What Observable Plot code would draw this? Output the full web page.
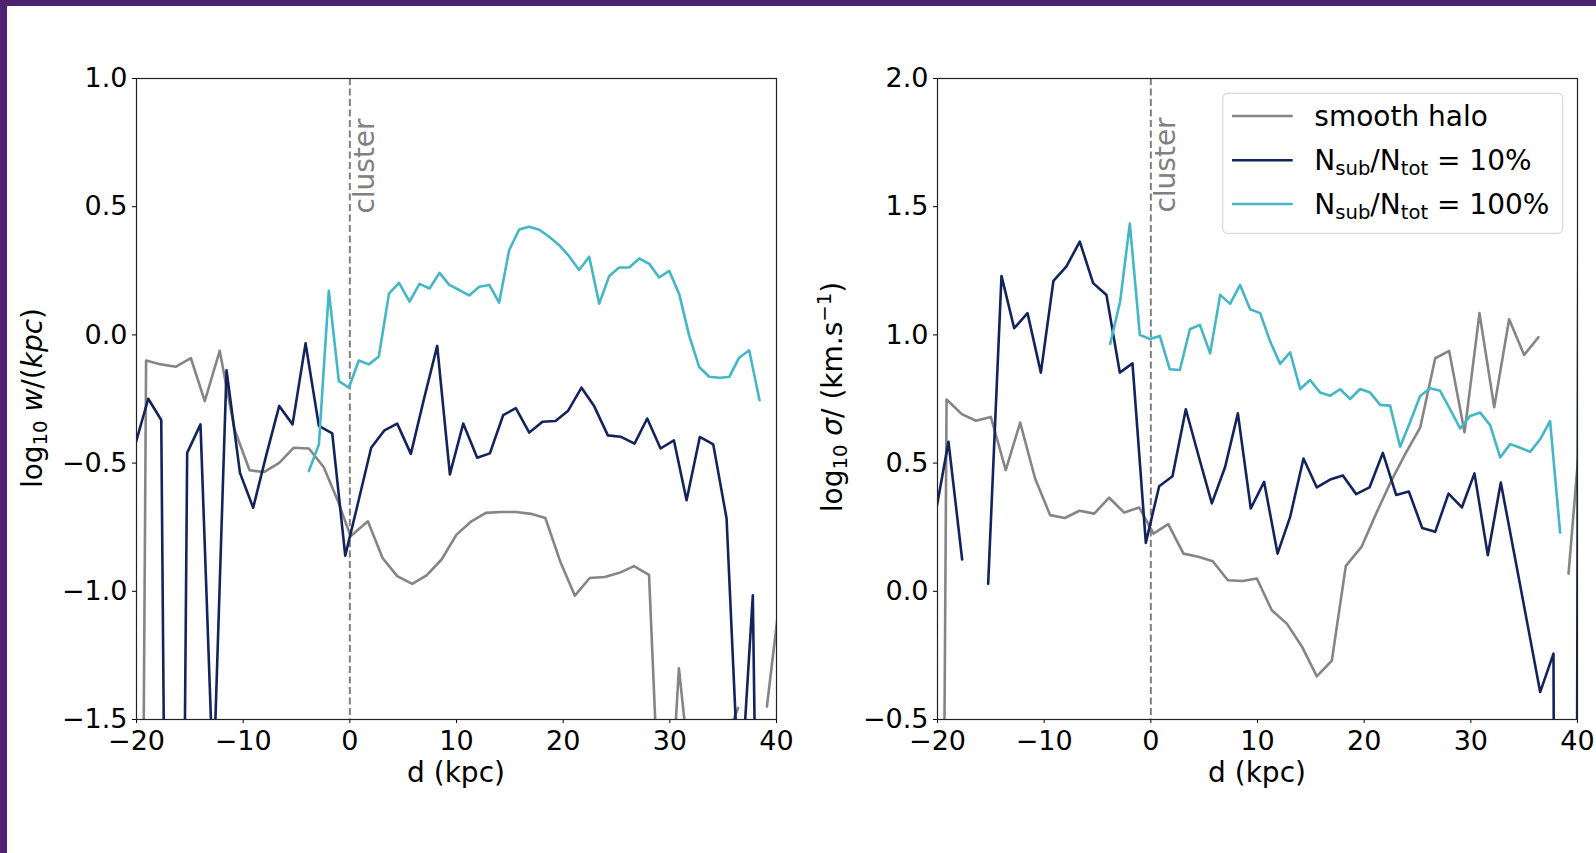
<!DOCTYPE html>
<html><head><meta charset="utf-8">
<script src="https://cdn.jsdelivr.net/npm/d3@7"></script>
<script src="https://cdn.jsdelivr.net/npm/@observablehq/plot@0.6"></script>
<style>
html,body{margin:0;padding:0;background:#fff;}
#page{position:relative;width:1596px;height:853px;background:#fff;overflow:hidden;font-family:"DejaVu Sans";}
#barL{position:absolute;left:0;top:0;width:7px;height:853px;background:#4e2171;}
#barT{position:absolute;left:0;top:0;width:1596px;height:6px;background:#4e2171;}
#left{position:absolute;left:0;top:0;width:800px;height:853px;}
#right{position:absolute;left:800px;top:0;width:796px;height:853px;}
</style></head><body>
<div id="page"><div id="left"></div><div id="right"></div><div id="barL"></div><div id="barT"></div></div>
<script>
// ---------- data ----------
const xTicks = [-20, -10, 0, 10, 20, 30, 40];
const yTicksW = [-1.5, -1.0, -0.5, 0.0, 0.5, 1.0];
const yTicksS = [-0.5, 0.0, 0.5, 1.0, 1.5, 2.0];
const seriesNames = ["smooth halo", "10%", "100%"];
const seriesColors = ["#858585", "#13245c", "#44b7c7"];

// Left panel: log10 w/(kpc)
const dGrayL = [-20.5, -19.1, -17.7, -16.3, -14.9, -13.6, -12.2, -10.8, -9.4, -8.06, -6.62, -5.25, -3.84, -2.44, -1.1, 0.07, 1.69, 3.07, 4.44, 5.85, 7.2, 8.6, 10.0, 11.4, 12.76, 14.17, 15.57, 16.98, 18.33, 19.77, 21.1, 22.49, 23.9, 25.27, 26.64, 28.05, 29.45, 30.85, 32.25, 33.65, 35.05, 36.4, 37.8, 39.1, 40.5];
const wGray = [-9, -0.10, -0.115, -0.124, -0.091, -0.258, -0.062, -0.37, -0.528, -0.535, -0.499, -0.44, -0.443, -0.516, -0.65, -0.785, -0.727, -0.87, -0.941, -0.971, -0.9375, -0.876, -0.779, -0.727, -0.694, -0.691, -0.691, -0.698, -0.714, -0.889, -1.017, -0.948, -0.944, -0.928, -0.902, -0.936, -2.3, -1.30, -1.85, -2.4, -1.6, -1.455, NaN, -1.45, -0.96];

const dBlueL = [-20.13, -18.9, -17.68, -16.45, -15.25, -14.0, -12.8, -11.56, -10.3, -9.06, -7.84, -6.62, -5.37, -4.15, -2.9, -1.65, -0.43, 0.8, 2.0, 3.25, 4.44, 5.72, 6.95, 8.19, 9.38, 10.63, 11.94, 13.13, 14.38, 15.56, 16.82, 18.07, 19.28, 20.44, 21.72, 22.87, 24.19, 25.38, 26.69, 27.88, 29.13, 30.38, 31.57, 32.81, 34.07, 35.32, 36.55, 37.78, 39.0];
const wBlue = [-0.43, -0.249, -0.332, -6.5, -0.46, -0.349, -1.76, -0.138, -0.538, -0.674, -0.47, -0.277, -0.349, -0.033, -0.355, -0.384, -0.861, -0.65, -0.44, -0.372, -0.346, -0.464, -0.25, -0.043, -0.544, -0.346, -0.479, -0.462, -0.3125, -0.286, -0.381, -0.339, -0.336, -0.297, -0.206, -0.275, -0.392, -0.397, -0.424, -0.326, -0.443, -0.411, -0.645, -0.398, -0.427, -0.716, -1.85, -1.016, -4.7];

const dCyanL = [-3.84, -2.9, -1.97, -1.03, -0.09, 0.84, 1.78, 2.72, 3.67, 4.61, 5.6, 6.53, 7.47, 8.41, 9.32, 10.26, 11.19, 12.13, 13.07, 14.0, 14.94, 15.88, 16.82, 17.76, 18.69, 19.63, 20.57, 21.5, 22.44, 23.38, 24.32, 25.25, 26.19, 27.13, 28.07, 29.0, 29.94, 30.88, 31.82, 32.75, 33.69, 34.63, 35.57, 36.5, 37.44, 38.41];
const wCyan = [-0.531, -0.427, 0.172, -0.18, -0.206, -0.10, -0.115, -0.084, 0.161, 0.203, 0.130, 0.199, 0.181, 0.242, 0.195, 0.175, 0.154, 0.1875, 0.195, 0.126, 0.331, 0.411, 0.422, 0.41, 0.383, 0.35, 0.306, 0.253, 0.305, 0.122, 0.23, 0.263, 0.263, 0.298, 0.277, 0.224, 0.25, 0.159, -0.004, -0.125, -0.163, -0.167, -0.164, -0.089, -0.06, -0.255];

// Right panel: log10 sigma/(km/s)
const dGrayR = [-20.5, -19.15, -17.72, -16.4, -15.0, -13.6, -12.25, -10.85, -9.44, -8.06, -6.69, -5.31, -3.91, -2.5, -1.09, 0.25, 1.63, 3.06, 4.45, 5.81, 7.22, 8.6, 9.94, 11.34, 12.75, 14.16, 15.56, 16.97, 18.28, 19.75, 21.12, 22.53, 23.88, 25.25, 26.66, 27.97, 29.41, 30.81, 32.19, 33.59, 35.0, 36.34, 37.75, 39.16, 40.56];
const sGray = [-8, 0.748, 0.691, 0.665, 0.68, 0.473, 0.658, 0.44, 0.297, 0.286, 0.314, 0.303, 0.365, 0.307, 0.327, 0.225, 0.262, 0.147, 0.135, 0.117, 0.043, 0.040, 0.050, -0.074, -0.126, -0.215, -0.332, -0.27, 0.099, 0.173, 0.303, 0.43, 0.538, 0.638, 0.909, 0.9375, 0.62, 1.085, 0.718, 1.061, 0.922, 0.991, NaN, 0.069, 0.77];

const dBlueR = [-20.2, -18.97, -17.69, -16.45, -15.25, -14.0, -12.81, -11.56, -10.31, -9.13, -7.91, -6.66, -5.41, -4.16, -2.91, -1.72, -0.47, 0.78, 2.03, 3.28, 4.53, 5.72, 6.97, 8.16, 9.37, 10.62, 11.88, 13.06, 14.31, 15.56, 16.81, 18.0, 19.25, 20.5, 21.75, 23.0, 24.19, 25.44, 26.66, 27.91, 29.16, 30.34, 31.59, 32.81, 34.06, 35.31, 36.5, 37.75, 39.0, 40.3];
const sBlue = [0.30, 0.583, 0.124, NaN, 0.030, 1.23, 1.026, 1.085, 0.853, 1.211, 1.267, 1.364, 1.202, 1.156, 0.853, 0.889, 0.189, 0.41, 0.449, 0.71, 0.52, 0.343, 0.486, 0.694, 0.323, 0.427, 0.147, 0.29, 0.518, 0.405, 0.436, 0.452, 0.379, 0.405, 0.54, 0.376, 0.389, 0.247, 0.232, 0.381, 0.327, 0.46, 0.141, 0.424, 0.148, -0.128, -0.393, -0.243, -17, 5.2];

const dCyanR = [-3.81, -2.88, -1.97, -1.03, -0.09, 0.84, 1.78, 2.72, 3.66, 4.6, 5.56, 6.5, 7.43, 8.37, 9.31, 10.25, 11.19, 12.12, 13.06, 14.0, 14.93, 15.87, 16.81, 17.75, 18.68, 19.62, 20.56, 21.5, 22.43, 23.37, 24.31, 25.25, 26.18, 27.12, 28.06, 29.0, 29.94, 30.88, 31.81, 32.75, 33.69, 34.62, 35.56, 36.5, 37.43, 38.37];
const sCyan = [0.965, 1.13, 1.434, 1.0, 0.984, 0.996, 0.866, 0.863, 1.022, 1.039, 0.928, 1.156, 1.121, 1.195, 1.10, 1.085, 0.974, 0.887, 0.932, 0.789, 0.824, 0.775, 0.763, 0.788, 0.75, 0.789, 0.775, 0.727, 0.724, 0.564, 0.66, 0.762, 0.792, 0.782, 0.71, 0.635, 0.684, 0.697, 0.648, 0.522, 0.574, 0.56, 0.544, 0.593, 0.664, 0.229];

const clusterLabel = "cluster";
// ----------------------------------------------------

const zip = (ds, vs) => ds.map((d, i) => ({d, v: vs[i]}));
const FONT = "DejaVu Sans";
const LW = 2.6;

function panel({width, marginLeft, marginRight, yDomain, yTicks, series, clusterY}) {
  const marks = [
    Plot.ruleX([0], {stroke: "#808080", strokeWidth: 2, strokeDasharray: "7,3.5"}),
    ...series.map((s, i) => Plot.line(s, {x: "d", y: "v", stroke: seriesColors[i], strokeWidth: LW, clip: true})),
    Plot.text([{d: 0, v: clusterY, t: clusterLabel}], {x: "d", y: "v", text: "t", rotate: -90, textAnchor: "start", lineAnchor: "bottom", dx: 24, fill: "#808080", fontSize: 28}),
    Plot.frame({stroke: "#222", strokeWidth: 1.2})
  ];
  return Plot.plot({
    width, height: 853, marginLeft, marginRight, marginTop: 78, marginBottom: 134,
    style: {fontFamily: FONT, fontSize: "27px", background: "transparent", color: "#000", overflow: "visible"},
    x: {domain: [-20, 40], ticks: xTicks, tickFormat: d3.format("d"), tickSize: 4, tickPadding: 7, label: null},
    y: {domain: yDomain, ticks: yTicks, tickFormat: d3.format(".1f"), tickSize: 4, tickPadding: 5, label: null},
    marks
  });
}

function addRich(g, parts, size) {
  parts.forEach(p => {
    const ts = g.append("tspan").text(p.t);
    if (p.it) ts.attr("font-style", "italic");
    if (p.sub) ts.attr("font-size", size * 0.7).attr("dy", size * 0.18);
    if (p.sup) ts.attr("font-size", size * 0.7).attr("dy", -size * 0.38);
    if (p.back) ts.attr("dy", p.back);
  });
}

function yLabel(svg, parts, cx, cy) {
  const t = d3.select(svg).append("text")
    .attr("transform", `translate(${cx},${cy}) rotate(-90)`)
    .attr("text-anchor", "middle").attr("font-family", FONT).attr("font-size", 28).attr("fill", "#000");
  addRich(t, parts, 28);
}

function xLabel(svg, cx, cy) {
  d3.select(svg).append("text").attr("x", cx).attr("y", cy)
    .attr("text-anchor", "middle").attr("font-family", FONT).attr("font-size", 28).attr("fill", "#000")
    .text("d (kpc)");
}

const left = panel({width: 800, marginLeft: 136, marginRight: 24, yDomain: [-1.5, 1.0], yTicks: yTicksW,
  series: [zip(dGrayL, wGray), zip(dBlueL, wBlue), zip(dCyanL, wCyan)], clusterY: 0.473});
const right = panel({width: 796, marginLeft: 137, marginRight: 19, yDomain: [-0.5, 2.0], yTicks: yTicksS,
  series: [zip(dGrayR, sGray), zip(dBlueR, sBlue), zip(dCyanR, sCyan)], clusterY: 1.477});

document.getElementById("left").appendChild(left);
document.getElementById("right").appendChild(right);

xLabel(left, 456, 782);
xLabel(right, 457, 782);
yLabel(left, [{t: "log"}, {t: "10", sub: true}, {t: " w", it: true, back: -28 * 0.18}, {t: "/("}, {t: "kpc", it: true}, {t: ")"}], 42, 398);
yLabel(right, [{t: "log"}, {t: "10", sub: true}, {t: " σ", it: true, back: -28 * 0.18}, {t: "/ (km.s"}, {t: "−1", sup: true}, {t: ")", back: 28 * 0.38}], 42, 397);

// legend
const lg = d3.select(right).append("g").attr("font-family", FONT).attr("font-size", 28).attr("text-anchor", "start");
lg.append("rect").attr("x", 422.7).attr("y", 93.3).attr("width", 340).attr("height", 140).attr("rx", 5)
  .attr("fill", "#fff").attr("fill-opacity", 0.8).attr("stroke", "#d9d9d9").attr("stroke-width", 1.2);
const legendParts = [
  [{t: seriesNames[0]}],
  [{t: "N"}, {t: "sub", sub: true}, {t: "/N", back: -28 * 0.18}, {t: "tot", sub: true}, {t: " = " + seriesNames[1], back: -28 * 0.18}],
  [{t: "N"}, {t: "sub", sub: true}, {t: "/N", back: -28 * 0.18}, {t: "tot", sub: true}, {t: " = " + seriesNames[2], back: -28 * 0.18}]
];
[116, 160.3, 204].forEach((y, i) => {
  lg.append("line").attr("x1", 432).attr("x2", 492.7).attr("y1", y).attr("y2", y)
    .attr("stroke", seriesColors[i]).attr("stroke-width", LW);
  const t = lg.append("text").attr("x", 514.3).attr("y", y + 10).attr("fill", "#000").attr("text-anchor", "start");
  addRich(t, legendParts[i], 28);
});
</script>
</body></html>
